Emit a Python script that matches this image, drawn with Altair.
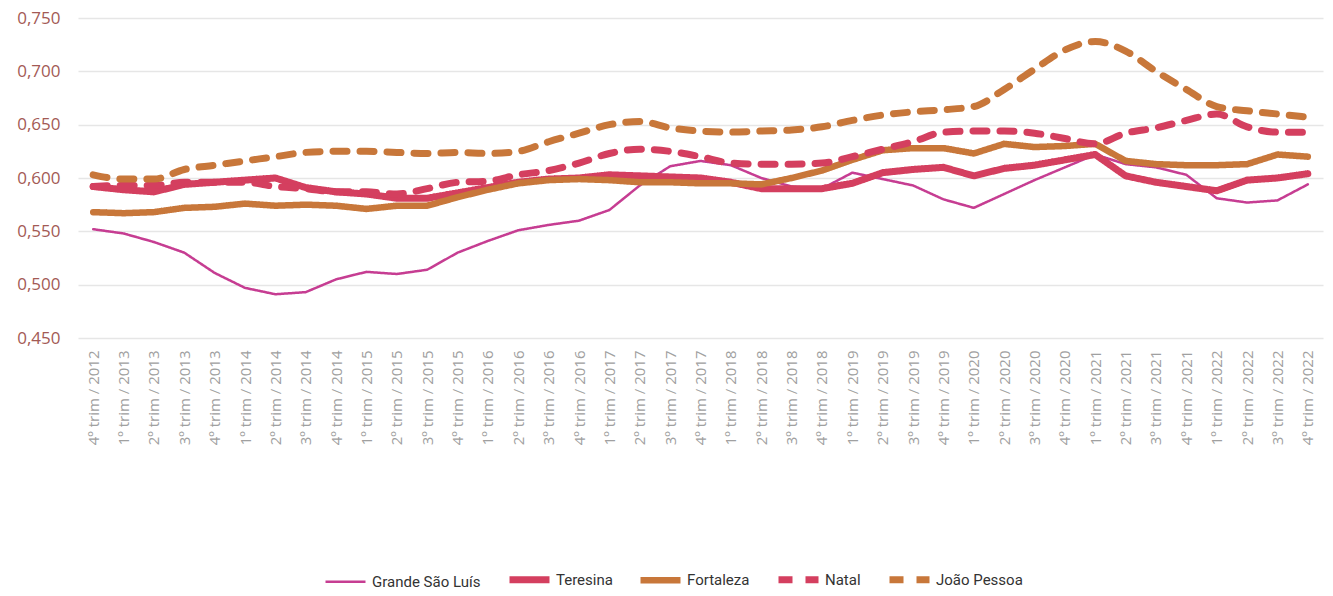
import altair as alt
import pandas as pd

q_list = ["4º trim / 2012"]
for y in range(2013, 2023):
    for q in range(1, 5):
        q_list.append(f"{q}º trim / {y}")
quarters = q_list

series_names = ["Grande São Luís", "Teresina", "Fortaleza", "Natal", "João Pessoa"]

sao_luis = [0.552, 0.548, 0.540, 0.530, 0.511, 0.497, 0.491, 0.493, 0.505, 0.512,
            0.510, 0.514, 0.530, 0.541, 0.551, 0.556, 0.560, 0.570, 0.593, 0.611,
            0.616, 0.612, 0.600, 0.592, 0.590, 0.605, 0.599, 0.593, 0.580, 0.572,
            0.585, 0.598, 0.610, 0.622, 0.613, 0.610, 0.603, 0.581, 0.577, 0.579,
            0.594]
teresina = [0.592, 0.589, 0.587, 0.594, 0.596, 0.598, 0.600, 0.591, 0.587, 0.585,
            0.581, 0.581, 0.586, 0.591, 0.596, 0.599, 0.600, 0.603, 0.602, 0.601,
            0.600, 0.596, 0.590, 0.590, 0.590, 0.595, 0.605, 0.608, 0.610, 0.602,
            0.609, 0.612, 0.617, 0.622, 0.602, 0.596, 0.592, 0.588, 0.598, 0.600,
            0.604]
fortaleza = [0.568, 0.567, 0.568, 0.572, 0.573, 0.576, 0.574, 0.575, 0.574, 0.571,
             0.574, 0.574, 0.582, 0.589, 0.595, 0.598, 0.599, 0.598, 0.596, 0.596,
             0.595, 0.595, 0.594, 0.600, 0.607, 0.617, 0.626, 0.628, 0.628, 0.623,
             0.632, 0.629, 0.630, 0.632, 0.616, 0.613, 0.612, 0.612, 0.613, 0.622,
             0.620]
natal = [0.592, 0.593, 0.593, 0.596, 0.596, 0.596, 0.592, 0.590, 0.587, 0.587,
         0.585, 0.590, 0.596, 0.597, 0.603, 0.607, 0.614, 0.623, 0.627, 0.625,
         0.620, 0.614, 0.613, 0.613, 0.614, 0.620, 0.627, 0.634, 0.643, 0.644,
         0.644, 0.642, 0.637, 0.632, 0.642, 0.647, 0.654, 0.660, 0.648, 0.643,
         0.643]
joao_pessoa = [0.603, 0.599, 0.599, 0.608, 0.612, 0.616, 0.620, 0.624, 0.625, 0.625,
               0.624, 0.623, 0.624, 0.623, 0.625, 0.634, 0.642, 0.650, 0.653, 0.647,
               0.644, 0.643, 0.644, 0.645, 0.648, 0.654, 0.659, 0.662, 0.664, 0.667,
               0.683, 0.702, 0.720, 0.728, 0.719, 0.700, 0.683, 0.667, 0.663, 0.660,
               0.657]

colors = ["#C63D92", "#D43F5F", "#C8773A", "#D43F5F", "#C8773A"]
widths = [2.5, 7, 6.5, 7, 7]
dashes = [[1, 0], [1, 0], [1, 0], [14, 13], [14, 13]]

values = [sao_luis, teresina, fortaleza, natal, joao_pessoa]
rows = []
for name, vals in zip(series_names, values):
    for q, v in zip(quarters, vals):
        rows.append({"trimestre": q, "serie": name, "valor": v})
df = pd.DataFrame(rows)

legend = alt.Legend(
    title=None, orient="none", legendX=244, legendY=538, direction="horizontal",
    columns=5, symbolType="stroke", symbolSize=1600, labelFont="Roboto",
    labelFontSize=15, labelColor="#333333", labelBaseline="middle",
    columnPadding=14, labelOffset=3,
)

base = alt.Chart(df).encode(
    x=alt.X("trimestre:N", sort=quarters, title=None,
            scale=alt.Scale(type="point", padding=0.5),
            axis=alt.Axis(labelAngle=-90, labelFont="Open Sans", labelFontSize=15,
                          labelColor="#a0a0a0", labelPadding=12, ticks=False,
                          domain=False, grid=False)),
    y=alt.Y("valor:Q", title=None,
            scale=alt.Scale(domain=[0.45, 0.75], nice=False, zero=False),
            axis=alt.Axis(values=[0.45, 0.5, 0.55, 0.6, 0.65, 0.7, 0.75],
                          labelExpr="replace(format(datum.value, '.3f'), '.', ',')",
                          labelFont="Open Sans", labelFontSize=17, labelColor="#A35A55",
                          labelPadding=18, ticks=False, domain=False,
                          gridColor="#e6e6e6", gridWidth=1.5)),
    color=alt.Color("serie:N", sort=series_names,
                    scale=alt.Scale(domain=series_names, range=colors), legend=legend),
    strokeWidth=alt.StrokeWidth("serie:O", sort=series_names,
                                scale=alt.Scale(type="ordinal", domain=series_names, range=widths),
                                legend=legend),
    strokeDash=alt.StrokeDash("serie:N", sort=series_names,
                              scale=alt.Scale(domain=series_names, range=dashes),
                              legend=legend),
)

layers = []
for i, name in enumerate(series_names):
    interp = "monotone" if i >= 3 else "linear"
    layers.append(
        base.transform_filter(alt.datum.serie == name).mark_line(
            interpolate=interp, strokeCap="round", strokeJoin="round")
    )

chart = alt.layer(*layers).properties(
    width=1245, height=320,
    autosize=alt.AutoSizeParams(type="none"),
    padding={"left": 70, "top": 10, "right": 2, "bottom": 250},
).configure_view(stroke=None)

chart.save("out.html", embed_options={"renderer": "svg", "actions": False})
